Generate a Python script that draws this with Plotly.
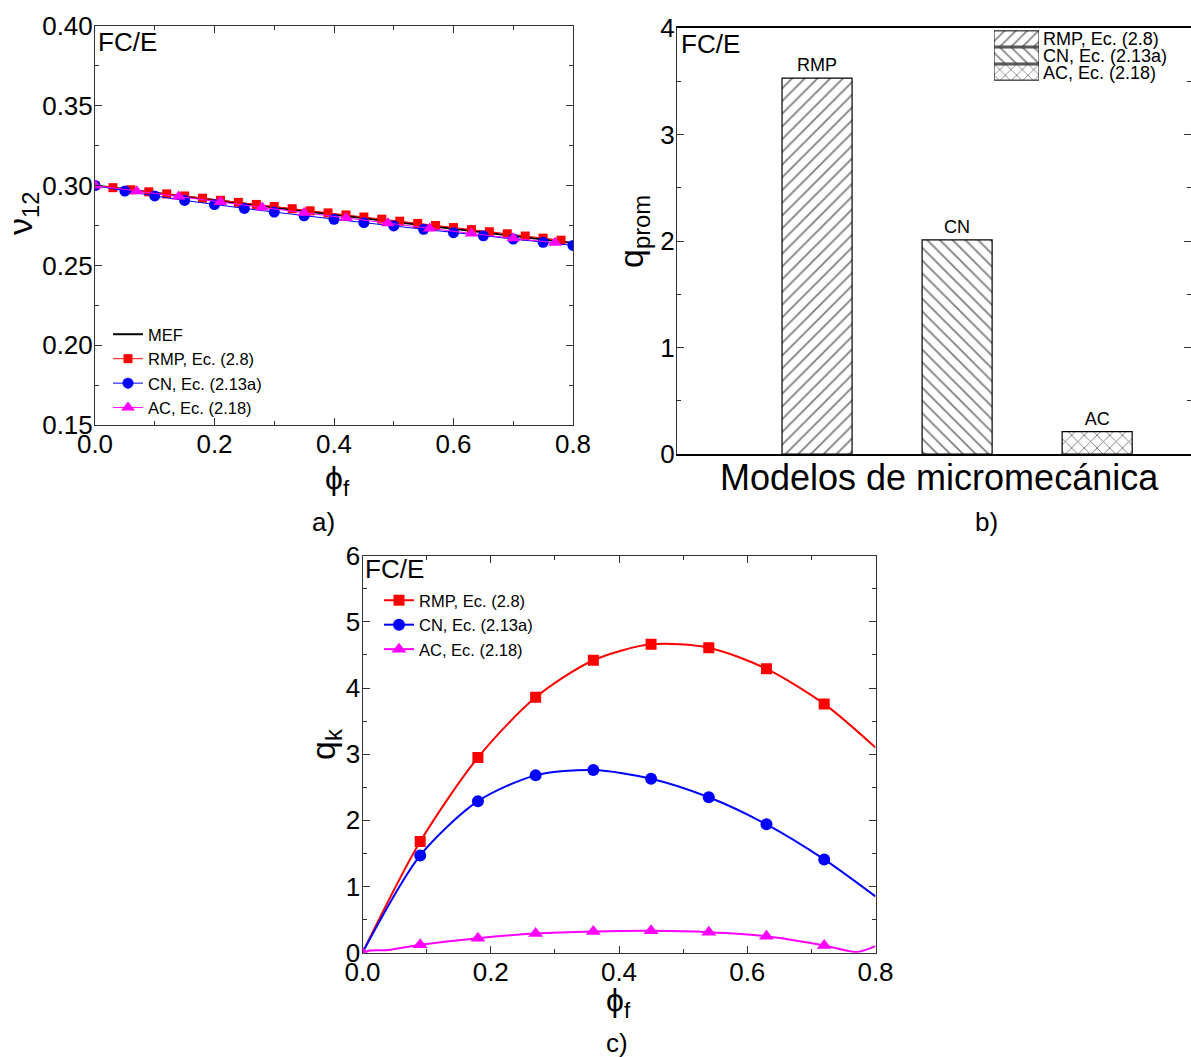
import plotly.graph_objects as go

W, H = 1191, 1057


def px(x):
    return x / W


def py(y):
    return 1 - y / H


FONT = "Liberation Sans, Arial, sans-serif"

# ---------------- Panel a) data : Poisson ratio nu12 vs phi_f ----------------
phi_mef = [0.0, 0.1, 0.2, 0.3, 0.4, 0.5, 0.6, 0.7, 0.8]
nu_mef = [0.3000, 0.2954, 0.2908, 0.2863, 0.2818, 0.2773, 0.2729, 0.2685, 0.2640]

phi_rmp = [0.00, 0.03, 0.06, 0.09, 0.12, 0.15, 0.18, 0.21, 0.24, 0.27, 0.30, 0.33,
           0.36, 0.39, 0.42, 0.45, 0.48, 0.51, 0.54, 0.57, 0.60, 0.63, 0.66, 0.69,
           0.72, 0.75, 0.78]
nu_rmp = [0.3000, 0.2987, 0.2974, 0.2961, 0.2948, 0.2935, 0.2921, 0.2908, 0.2895,
          0.2882, 0.2869, 0.2855, 0.2842, 0.2829, 0.2816, 0.2803, 0.2790, 0.2777,
          0.2763, 0.2750, 0.2737, 0.2724, 0.2711, 0.2698, 0.2684, 0.2671, 0.2658]

phi_cn = [0.00, 0.05, 0.10, 0.15, 0.20, 0.25, 0.30, 0.35, 0.40, 0.45, 0.50, 0.55,
          0.60, 0.65, 0.70, 0.75, 0.80]
nu_cn = [0.3000, 0.2966, 0.2935, 0.2907, 0.2881, 0.2857, 0.2834, 0.2811, 0.2789,
         0.2768, 0.2747, 0.2726, 0.2705, 0.2685, 0.2665, 0.2645, 0.2625]

phi_ac = [0.00, 0.07, 0.14, 0.21, 0.28, 0.35, 0.42, 0.49, 0.56, 0.63, 0.70, 0.77]
nu_ac = [0.3000, 0.2965, 0.2931, 0.2897, 0.2863, 0.2830, 0.2797, 0.2764, 0.2731,
         0.2700, 0.2670, 0.2642]

# ---------------- Panel b) data : average error per model ----------------
models = ["RMP", "CN", "AC"]
model_pos = [1, 2, 3]
q_prom = [3.53, 2.01, 0.21]
legend_b = ["RMP, Ec. (2.8)", "CN, Ec. (2.13a)", "AC, Ec. (2.18)"]

# ---------------- Panel c) data : q_k vs phi_f ----------------
phi_mk = [0.09, 0.18, 0.27, 0.36, 0.45, 0.54, 0.63, 0.72]
qk_rmp = [1.68, 2.95, 3.86, 4.42, 4.66, 4.61, 4.29, 3.76]
qk_cn = [1.47, 2.29, 2.68, 2.76, 2.63, 2.35, 1.94, 1.41]
phi_ac_mk = [0.00, 0.09, 0.18, 0.27, 0.36, 0.45, 0.54, 0.63, 0.72]
qk_ac = [0.00, 0.12, 0.22, 0.29, 0.32, 0.33, 0.31, 0.25, 0.11]

phi_curve = [0.00, 0.09, 0.18, 0.27, 0.36, 0.45, 0.54, 0.63, 0.72, 0.80]
curve_rmp = [0.00, 1.68, 2.95, 3.86, 4.42, 4.66, 4.61, 4.29, 3.76, 3.10]
curve_cn = [0.00, 1.47, 2.29, 2.68, 2.76, 2.63, 2.35, 1.94, 1.41, 0.85]
phi_curve_ac = [0.00, 0.01, 0.04, 0.09, 0.18, 0.27, 0.36, 0.45, 0.54, 0.63, 0.72, 0.77, 0.80]
curve_ac = [0.00, 0.03, 0.04, 0.12, 0.22, 0.29, 0.32, 0.33, 0.31, 0.25, 0.11, 0.01, 0.10]

names = ["RMP, Ec. (2.8)", "CN, Ec. (2.13a)", "AC, Ec. (2.18)"]
RED, BLUE, MAG = "#ff0000", "#0000ff", "#ff00ff"

fig = go.Figure()

# ---- panel a traces ----
fig.add_trace(go.Scatter(x=phi_mef, y=nu_mef, mode="lines", name="MEF",
                         line=dict(color="black", width=2), xaxis="x", yaxis="y",
                         legend="legend"))
fig.add_trace(go.Scatter(x=phi_rmp, y=nu_rmp, mode="lines+markers", name=names[0],
                         line=dict(color=RED, width=1),
                         marker=dict(symbol="square", size=9, color=RED),
                         xaxis="x", yaxis="y", legend="legend"))
fig.add_trace(go.Scatter(x=phi_cn, y=nu_cn, mode="lines+markers", name=names[1],
                         line=dict(color=BLUE, width=1),
                         marker=dict(symbol="circle", size=11, color=BLUE),
                         xaxis="x", yaxis="y", legend="legend"))
fig.add_trace(go.Scatter(x=phi_ac, y=nu_ac, mode="lines+markers", name=names[2],
                         line=dict(color=MAG, width=1),
                         marker=dict(symbol="triangle-up", size=12, color=MAG),
                         xaxis="x", yaxis="y", legend="legend"))

# ---- panel b traces ----
patterns = ["/", "\\", "x"]
fig.add_trace(go.Bar(x=model_pos, y=q_prom, width=0.5, text=models,
                     textposition="outside", cliponaxis=False,
                     textfont=dict(size=18, color="black", family=FONT),
                     marker=dict(color="white", line=dict(color="black", width=1.2),
                                 pattern=dict(shape=patterns, fgcolor="black",
                                              bgcolor="white", size=9, solidity=0.2)),
                     showlegend=False, xaxis="x2", yaxis="y2", hoverinfo="skip"))
# legend swatches for panel b (drawn as small bars on a helper axis)
fig.add_trace(go.Bar(y=[0, 1, 2], x=[1, 1, 1], orientation="h", width=0.9,
                     marker=dict(color="white", line=dict(color="black", width=1),
                                 pattern=dict(shape=patterns, fgcolor="black",
                                              bgcolor="white", size=8, solidity=0.2)),
                     showlegend=False, xaxis="x4", yaxis="y4", hoverinfo="skip"))

# ---- panel c traces ----
for xc, yc, xm, ym, col, sym, sz, nm in [
    (phi_curve, curve_rmp, phi_mk, qk_rmp, RED, "square", 11, names[0]),
    (phi_curve, curve_cn, phi_mk, qk_cn, BLUE, "circle", 12, names[1]),
    (phi_curve_ac, curve_ac, phi_ac_mk, qk_ac, MAG, "triangle-up", 13, names[2]),
]:
    fig.add_trace(go.Scatter(x=xc, y=yc, mode="lines",
                             line=dict(color=col, width=2, shape="spline", smoothing=0.8),
                             showlegend=False, xaxis="x3", yaxis="y3"))
    fig.add_trace(go.Scatter(x=xm, y=ym, mode="markers",
                             marker=dict(symbol=sym, size=sz, color=col),
                             showlegend=False, xaxis="x3", yaxis="y3"))
    fig.add_trace(go.Scatter(x=[None], y=[None], mode="lines+markers", name=nm,
                             line=dict(color=col, width=2),
                             marker=dict(symbol=sym, size=sz, color=col),
                             xaxis="x3", yaxis="y3", legend="legend2"))

axcol = "#333333"
common = dict(showline=True, linecolor=axcol, linewidth=1, mirror="ticks",
              ticks="inside", ticklen=7, tickcolor=axcol, tickwidth=1,
              showgrid=False, zeroline=False, ticklabelstandoff=-4,
              tickfont=dict(size=26, color="black", family=FONT))

fig.update_layout(
    width=W, height=H,
    margin=dict(l=0, r=0, t=0, b=0, autoexpand=False),
    paper_bgcolor="white", plot_bgcolor="white",
    font=dict(family=FONT, color="black"),
    xaxis=dict(domain=[px(95), px(573)], anchor="y", range=[0, 0.8],
               tickmode="linear", tick0=0, dtick=0.2, tickformat=".1f",
               minor=dict(dtick=0.1, ticks="inside", ticklen=4, tickcolor=axcol),
               **common),
    yaxis=dict(domain=[py(425), py(26)], anchor="x", range=[0.15, 0.40],
               tickmode="linear", tick0=0.15, dtick=0.05, tickformat=".2f",
               minor=dict(dtick=0.025, ticks="inside", ticklen=4, tickcolor=axcol),
               **common),
    xaxis2=dict(domain=[px(677), 1.0], anchor="y2", range=[0, 3.67],
                showline=True, linecolor="black", linewidth=2, mirror=True,
                ticks="", showticklabels=False, showgrid=False, zeroline=False),
    yaxis2=dict(domain=[py(454), py(28)], anchor="x2", range=[0, 4],
                tickmode="linear", tick0=0, dtick=1,
                minor=dict(dtick=0.5, ticks="inside", ticklen=4, tickcolor=axcol),
                **common),
    xaxis3=dict(domain=[px(362.5), px(875.5)], anchor="y3", range=[0, 0.8],
                tickmode="linear", tick0=0, dtick=0.2, tickformat=".1f",
                minor=dict(dtick=0.1, ticks="inside", ticklen=4, tickcolor=axcol),
                **common),
    yaxis3=dict(domain=[py(952.7), py(555.7)], anchor="x3", range=[0, 6],
                tickmode="linear", tick0=0, dtick=1,
                minor=dict(dtick=0.5, ticks="inside", ticklen=4, tickcolor=axcol),
                **common),
    xaxis4=dict(domain=[px(994), px(1039)], anchor="y4", range=[0, 1],
                visible=False, fixedrange=True),
    yaxis4=dict(domain=[py(81), py(30)], anchor="x4", range=[2.5, -0.5],
                side="right", tickmode="array", tickvals=[0, 1, 2], ticktext=legend_b,
                ticks="", showline=False, showgrid=False, zeroline=False,
                ticklabelstandoff=3,
                tickfont=dict(size=18, color="black", family=FONT)),
    legend=dict(x=px(108), y=py(317), xanchor="left", yanchor="top",
                bgcolor="rgba(0,0,0,0)", font=dict(size=16.5, family=FONT, color="black"),
                tracegroupgap=0, itemclick=False),
    legend2=dict(x=px(379), y=py(583), xanchor="left", yanchor="top",
                 bgcolor="rgba(0,0,0,0)", font=dict(size=16.5, family=FONT, color="black"),
                 tracegroupgap=0, itemclick=False),
)

ann = []


def add_text(x, y, text, size, xanchor="center", angle=0):
    ann.append(dict(x=px(x), y=py(y), xref="paper", yref="paper", text=text,
                    showarrow=False, xanchor=xanchor, yanchor="middle",
                    textangle=angle, font=dict(size=size, color="black", family=FONT)))


# panel labels
add_text(96, 42, "FC/E", 26, xanchor="left")
add_text(679, 44, "FC/E", 26, xanchor="left")
add_text(363, 569, "FC/E", 26, xanchor="left")
# axis titles
add_text(22, 214, "ν<sub>12</sub>", 34, angle=-90)
add_text(337, 481, "ϕ<sub>f</sub>", 32)
add_text(634, 232, "q<sub>prom</sub>", 34, angle=-90)
add_text(939, 477, "Modelos de micromecánica", 36)
add_text(325, 745, "q<sub>k</sub>", 34, angle=-90)
add_text(618, 1002, "ϕ<sub>f</sub>", 32)
# sub-figure labels
add_text(323, 522, "a)", 26)
add_text(986, 522, "b)", 26)
add_text(617, 1043, "c)", 26)

fig.update_layout(annotations=ann)

fig.write_html("out.html")
